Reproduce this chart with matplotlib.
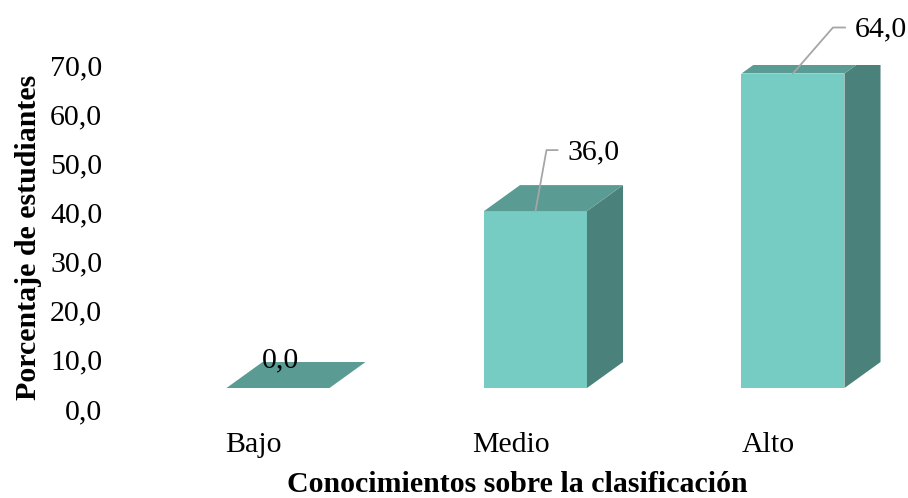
import matplotlib
matplotlib.use("Agg")
import matplotlib.pyplot as plt
from matplotlib.patches import Polygon
from matplotlib.lines import Line2D

# Data
categories = ["Bajo", "Medio", "Alto"]
values = [0.0, 36.0, 64.0]
yticks = [0, 10, 20, 30, 40, 50, 60, 70]
ytick_labels = ["0,0", "10,0", "20,0", "30,0", "40,0", "50,0", "60,0", "70,0"]

# Styling / layout
FONT = "Liberation Serif"
FS = 21.5
FRONT = "#76ccc3"
TOP = "#5a9b93"
SIDE = "#4a827b"
LEADER = "#a6a6a6"

W, H = 908, 498
fig = plt.figure(figsize=(W / 100, H / 100), dpi=100)
ax_left, ax_right = 124.25, 896.75
ax_top, ax_bottom = 65, 409
ax = fig.add_axes([ax_left / W, (H - ax_bottom) / H,
                   (ax_right - ax_left) / W, (ax_bottom - ax_top) / H])
ax.set_xlim(-0.5, 2.5)
ax.set_ylim(0, 70)
for s in ax.spines.values():
    s.set_visible(False)
ax.set_facecolor("none")

# pseudo-3D bar geometry (data units)
floor = 4.27         # front-face floor raised above the axis origin
x_shift = -0.103     # front face left edge relative to category centre
bar_w = 0.40
depth_x = 0.14
depth_y = 5.29

for i, v in enumerate(values):
    x0 = i + x_shift
    x1 = x0 + bar_w
    y0 = floor
    y1 = floor + v
    if v > 0:
        ax.add_patch(Polygon([(x0, y0), (x1, y0), (x1, y1), (x0, y1)],
                             closed=True, facecolor=FRONT, edgecolor="none", zorder=3))
        ax.add_patch(Polygon([(x1, y0), (x1 + depth_x, y0 + depth_y),
                              (x1 + depth_x, y1 + depth_y), (x1, y1)],
                             closed=True, facecolor=SIDE, edgecolor="none", zorder=3))
    ax.add_patch(Polygon([(x0, y1), (x1, y1), (x1 + depth_x, y1 + depth_y),
                          (x0 + depth_x, y1 + depth_y)],
                         closed=True, facecolor=TOP, edgecolor="none", zorder=3))

ax.set_yticks(yticks)
ax.set_yticklabels(ytick_labels, fontsize=FS, fontfamily=FONT)
ax.set_xticks(range(len(categories)))
ax.set_xticklabels(categories, fontsize=FS, fontfamily=FONT)
ax.tick_params(axis="both", length=0)
ax.tick_params(axis="y", pad=15.8)
ax.tick_params(axis="x", pad=16.5)

fig.text(29 / W, 1 - 237 / H, "Porcentaje de estudiantes", rotation=90,
         ha="center", va="center", fontsize=FS, fontweight="bold", fontfamily=FONT)
fig.text(517 / W, 1 - 484 / H, "Conocimientos sobre la clasificación",
         ha="center", va="center", fontsize=FS, fontweight="bold", fontfamily=FONT)

# value labels: (elbow dx, elbow dy, horizontal run) in pixels from the top-front centre
label_layout = [None, (11, 61, 11), (40, 46, 12)]
for i, v in enumerate(values):
    cx = i + x_shift + bar_w / 2
    ax_x, ax_y = ax.transData.transform((cx, floor + v))
    text = f"{v:.1f}".replace(".", ",")
    lay = label_layout[i]
    if lay is None:
        fig.text((ax_x + 3) / W, (ax_y + 28) / H, text, ha="center", va="center",
                 fontsize=FS, fontfamily=FONT, zorder=5)
        continue
    ex, ey, run = lay
    xs = [ax_x, ax_x + ex, ax_x + ex + run]
    ys = [ax_y, ax_y + ey, ax_y + ey]
    fig.add_artist(Line2D(xs, ys, color=LEADER, lw=1.3, transform=None, zorder=5))
    fig.text((ax_x + ex + run + 10) / W, (ax_y + ey - 2) / H, text,
             ha="left", va="center", fontsize=FS, fontfamily=FONT, zorder=5)

fig.savefig("out.png", dpi=100)
